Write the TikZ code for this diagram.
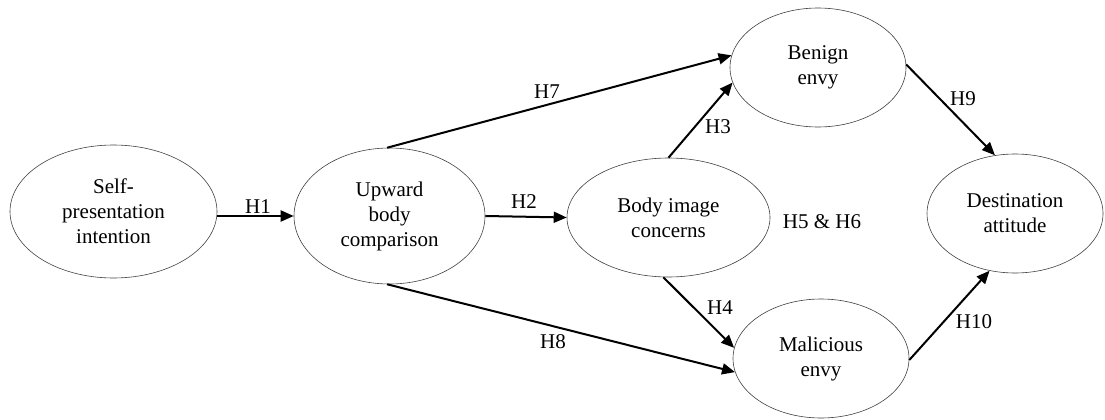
\documentclass[tikz,border=0pt]{standalone}
\usepackage{fontspec}
\setmainfont{Liberation Serif}
\usetikzlibrary{shapes.geometric,arrows.meta}
\begin{document}
\begin{tikzpicture}[x=1pt,y=-1pt,
  construct/.style={ellipse,draw=black!75,line width=0.6pt,inner sep=0pt,
    align=center,font=\fontsize{21}{25}\selectfont},
  path/.style={line width=2pt,-{Triangle[length=13pt,width=11pt]}},
  hyp/.style={font=\fontsize{21}{25}\selectfont,inner sep=0pt}]
\useasboundingbox (0,0) rectangle (1105,420);

% constructs
\node[construct,minimum width=207pt,minimum height=133pt] (self) at (113.5,211.5) {Self-\\presentation\\intention};
\node[construct,minimum width=191pt,minimum height=136pt] (up) at (389.5,216) {Upward\\body\\comparison};
\node[construct,minimum width=203pt,minimum height=119pt] (body) at (668.5,217.5) {Body image\\concerns};
\node[construct,minimum width=176pt,minimum height=119pt] (benign) at (818,67.5) {Benign\\envy};
\node[construct,minimum width=176pt,minimum height=119pt] (mal) at (821,358.5) {Malicious\\envy};
\node[construct,minimum width=176pt,minimum height=119pt] (dest) at (1015,213.5) {Destination\\attitude};

% hypothesised paths
\draw[path] (up.west -| self.east) -- (up.west);
\draw[path] (up.east) -- (body.west);
\draw[path] (up.92) -- (benign.172);
\draw[path] (body.north) -- (benign.190);
\draw[path] (up.268) -- (mal.189);
\draw[path] (body.265) -- (mal.173);
\draw[path] (benign.2) -- (dest.109);
\draw[path] (mal.359) -- (dest.246);

% labels
\node[hyp] (h1) at (258,207) {H1};
\node[hyp] (h2) at (524,202) {H2};
\node[hyp] (h7) at (547,92) {H7};
\node[hyp] (h3) at (718,127) {H3};
\node[hyp] (h8) at (553,342) {H8};
\node[hyp] (h4) at (720,308) {H4};
\node[hyp] (h9) at (963,99) {H9};
\node[hyp] (h10) at (974,322) {H10};
\node[hyp] (h56) at (822,222) {H5 \& H6};
\end{tikzpicture}
\end{document}
